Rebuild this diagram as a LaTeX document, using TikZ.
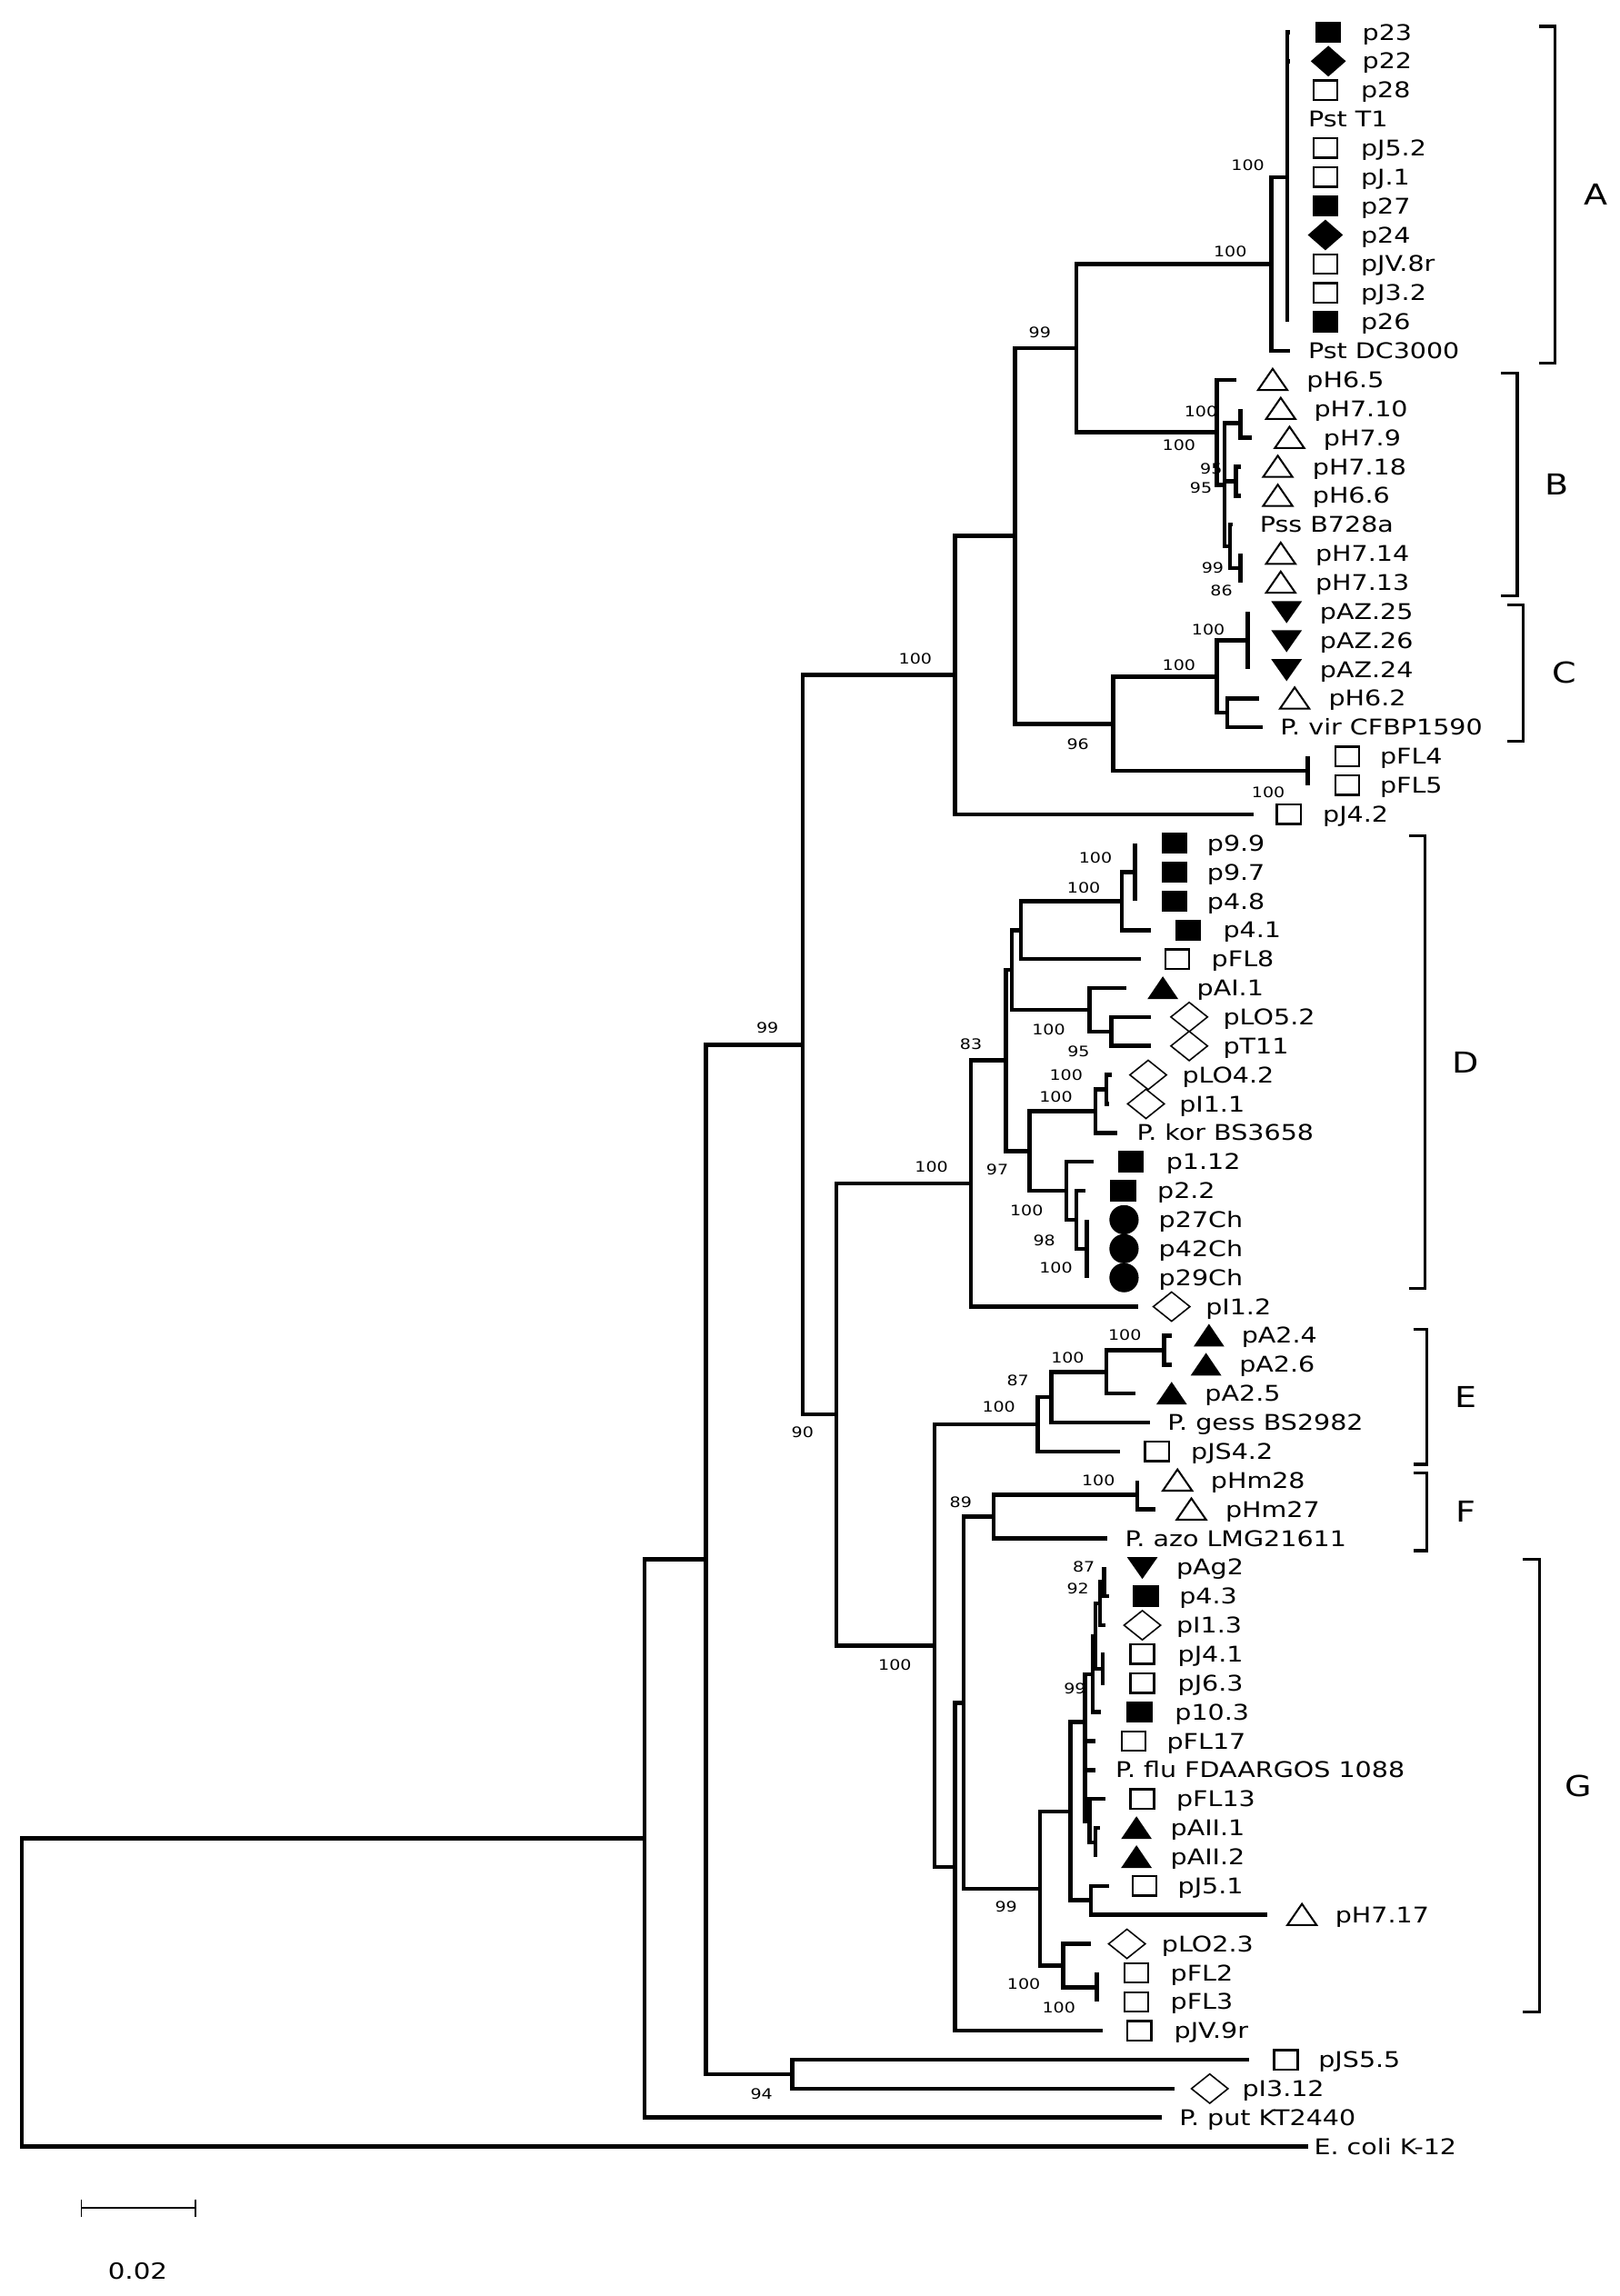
\documentclass[tikz,border=0pt]{standalone}
\usepackage{fontspec}
\setmainfont[FakeStretch=1.2]{DejaVu Sans}
\usetikzlibrary{
  arrows.meta
}

\tikzset{
  sqf/.pic={\fill (-8.8,-7.3) rectangle (8.8,7.3);},
  sqo/.pic={\draw[line width=1pt] (-8.1,-6.6) rectangle (8.1,6.6);},
  dmf/.pic={\fill (0,-10.5) -- (12,0) -- (0,10.5) -- (-12,0) -- cycle;},
  dmo/.pic={\draw[line width=.7pt] (0,-10) -- (12.5,0) -- (0,10) -- (-12.5,0) -- cycle;},
  tro/.pic={\draw[line width=.9pt] (-10,7) -- (10,7) -- (0,-7.5) -- cycle;},
  trf/.pic={\fill (-10.5,7.5) -- (10.5,7.5) -- (0,-8) -- cycle;},
  tdf/.pic={\fill (-10.5,-7) -- (10.5,-7) -- (0,8) -- cycle;},
  crf/.pic={\fill (0,0) circle (10);},
  nosym/.pic={},
}

\begin{document}
\begin{tikzpicture}[x=0.25mm, y=-0.25mm,
  branch/.style={line width=2pt},
  leaf/.style={anchor=mid west, inner sep=0pt, font=\fontsize{10.5}{12}\selectfont},
  boot/.style={inner sep=0pt, font=\fontsize{7}{8}\selectfont},
  clade/.style={line width=1.4pt},
  cladename/.style={inner sep=0pt, font=\fontsize{14}{16}\selectfont},
]
\useasboundingbox (0,0) rectangle (1106,1568);

% leaves: row/tip/symbol/symbol x/label x/name
\foreach \r/\tx/\sym/\sx/\lx/\txt in {
  1/881/sqf/907/930/p23, 2/881/dmf/907/930/p22, 3/879/sqo/905/929/p28,
  4/879/nosym/0/893/Pst T1, 5/879/sqo/905/929/pJ5.2, 6/879/sqo/905/929/pJ.1,
  7/879/sqf/905/929/p27, 8/879/dmf/905/929/p24, 9/879/sqo/905/929/pJV.8r,
  10/879/sqo/905/929/pJ3.2, 11/879/sqf/905/929/p26, 12/881/nosym/0/893/Pst DC3000,
  13/844/tro/869/892/pH6.5, 14/847/tro/874.5/897/pH7.10, 15/855/tro/880.5/903.5/pH7.9,
  16/847/tro/872.5/896/pH7.18, 17/847/tro/872.5/896/pH6.6, 18/842/nosym/0/860/Pss B728a,
  19/847/tro/874.5/898/pH7.14, 20/847/tro/874.5/898/pH7.13,
  21/852/tdf/878.5/901/pAZ.25, 22/852/tdf/878.5/901/pAZ.26, 23/852/tdf/878.5/901/pAZ.24,
  24/860/tro/884/907/pH6.2, 25/862/nosym/0/874/P. vir CFBP1590,
  26/893/sqo/920/942/pFL4, 27/893/sqo/920/942/pFL5, 28/856/sqo/880/903/pJ4.2,
  29/775/sqf/802/824/p9.9, 30/775/sqf/802/824/p9.7, 31/775/sqf/802/824/p4.8,
  32/786/sqf/811.5/835/p4.1, 33/779/sqo/804/827/pFL8, 34/769/trf/794/817/pAI.1,
  35/786/dmo/812/835/pLO5.2, 36/786/dmo/812/835/pT11, 37/759/dmo/784/807/pLO4.2,
  38/757/dmo/782.5/805/pI1.1, 39/763/nosym/0/776/P. kor BS3658,
  40/747/sqf/772/796/p1.12, 41/741/sqf/767/790/p2.2, 42/742/crf/767.5/791/p27Ch,
  43/742/crf/767.5/791/p42Ch, 44/742/crf/767.5/791/p29Ch, 45/777/dmo/800/823/pI1.2,
  46/800/trf/825.5/847.5/pA2.4, 47/800/trf/823.5/846/pA2.6, 48/775.5/trf/800/822.5/pA2.5,
  49/785/nosym/0/797/P. gess BS2982, 50/765/sqo/790/813/pJS4.2,
  51/776.5/tro/804/826.5/pHm28, 52/789/tro/813.5/836.5/pHm27, 53/756/nosym/0/768/P. azo LMG21611,
  54/754/tdf/780/803/pAg2, 55/757/sqf/782.5/805/p4.3, 56/755/dmo/780/803/pI1.3,
  57/754/sqo/780/804/pJ4.1, 58/754/sqo/780/804/pJ6.3, 59/752/sqf/778/802/p10.3,
  60/748/sqo/774/796.5/pFL17, 61/748/nosym/0/761.5/P. flu FDAARGOS 1088,
  62/755/sqo/780/803/pFL13, 63/751/trf/776/799/pAII.1, 64/748/trf/776/799/pAII.2,
  65/757/sqo/781.5/804/pJ5.1, 66/865/tro/889/911.5/pH7.17, 67/745/dmo/769.5/793/pLO2.3,
  68/749/sqo/776/799/pFL2, 69/749/sqo/776/799/pFL3, 70/753/sqo/778/801.5/pJV.9r,
  71/853/sqo/878/900/pJS5.5, 72/802/dmo/826/848/pI3.12,
  73/793/nosym/0/805/P. put KT2440, 74/893/nosym/0/897/E. coli K-12}{
  \pgfmathsetmacro\yy{22+(\r-1)*19.78}
  \coordinate (t\r) at (\tx,\yy);
  \pic at (\sx,\yy) {\sym};
  \node[leaf] (l\r) at (\lx,\yy+1.5) {\txt};
}

% inner nodes
\foreach \n/\x/\y in {
  R0/15/1360.8, N1/440/1255.6, N2/482/1065, N94/541/1416.5, N3/548/713.5,
  N5/652/461, N99/693/366, NAB/735/237.7, NA/868/180.3, Acr/879/120.9,
  NB/831/295.2, Bb/836/331, Bc/847/289, Bd/844/328.6, Be/840/373.1, Bf/847/387.9,
  N96/760/494.3, NC/831/462.1, NAZ/852/437.4, Nvir/838/486.8, NFL/893/526.4,
  N4/571/966, D0/663/808.3, D1/687/724.2, D1a/691/662.4, D2/697/635.2,
  D3/766/615.4, D4/775/595.6, D5/744/689.6, D6/759/704.4, D7/703/786,
  D8/748/758.8, D9/755.5/744, D10/728/813.2, D11/735/833, D12/742/852.8,
  N6/638/1123.8, E0/708.5/972.7, E1/718/954.2, E2/755.5/936.9, E3/795/922,
  X/652/1274.9, Y/658/1162.9, F0/678.6/1035.8, F1/776.5/1020.9,
  G1/710/1290, G2/731/1237, G3/741/1176, Ga/754/1080.2, Gb/751/1095,
  Gc/753/1139.6, Gd/748/1117.3, Ge/746/1143.3, Gg/748/1258.3, Gh/744/1243.5,
  G8/745/1297.8, G9/726/1342.3, G10/749/1357.2}
  \coordinate (\n) at (\x,\y);

% bootstrap values
\foreach \x/\y/\v [count=\i] in {
  852/113/100, 840/172/100, 710/227/99, 820/281/100, 805/304/100, 827/320/95,
  820/333/95, 828/388/99, 834/403/86, 625/450/100, 825/430/100, 805/454/100,
  736/508/96, 866/541/100, 524/702/99, 748/586/100, 740/606/100, 663/713/83,
  716/703/100, 736.5/718/95, 728/734/100, 721/749/100, 636/797/100, 681/799/97,
  701/826.5/100, 713/847/98, 721/866/100, 548/978/90, 768/912/100, 729/927/100,
  695/943/87, 682/961/100, 750/1011/100, 656/1026/89, 611/1137/100, 740/1070/87,
  736/1085/92, 734/1153/99, 687/1302/99, 699/1355/100, 723/1371/100, 520/1430/94}
  \node[boot] (b\i) at (\x,\y) {\v};

\foreach \a/\b in {
  R0/N1, R0/t74, N1/N2, N1/t73, N2/N3, N2/N94, N94/t71, N94/t72,
  N3/N5, N3/N4, N5/N99, N5/t28, N99/NAB, N99/N96, NAB/NA, NAB/NB,
  NA/Acr, NA/t12, Acr/t1, Acr/t2, Acr/t3, Acr/t4, Acr/t5, Acr/t6, Acr/t7,
  Acr/t8, Acr/t9, Acr/t10, Acr/t11,
  NB/t13, NB/Bb, Bb/Bc, Bb/Bd, Bb/Be, Bc/t14, Bc/t15, Bd/t16, Bd/t17,
  Be/t18, Be/Bf, Bf/t19, Bf/t20,
  N96/NC, N96/NFL, NC/NAZ, NC/Nvir, NAZ/t21, NAZ/t22, NAZ/t23,
  Nvir/t24, Nvir/t25, NFL/t26, NFL/t27,
  N4/D0, N4/N6, D0/D1, D0/t45, D1/D1a, D1/D7, D1a/D2, D1a/D5,
  D2/D3, D2/t33, D3/D4, D3/t32, D4/t29, D4/t30, D4/t31, D5/t34, D5/D6,
  D6/t35, D6/t36, D7/D8, D7/D10, D8/D9, D8/t39, D9/t37, D9/t38,
  D10/t40, D10/D11, D11/t41, D11/D12, D12/t42, D12/t43, D12/t44,
  N6/E0, N6/X, E0/E1, E0/t50, E1/E2, E1/t49, E2/E3, E2/t48, E3/t46, E3/t47,
  X/Y, X/t70, Y/F0, Y/G1, F0/F1, F0/t53, F1/t51, F1/t52,
  G1/G2, G1/G9, G2/G3, G2/G8, G3/Ge, G3/t60, G3/t61, G3/Gh,
  Ge/Gd, Ge/t59, Gd/Gb, Gd/Gc, Gb/Ga, Gb/t56, Ga/t54, Ga/t55, Gc/t57, Gc/t58,
  Gh/t62, Gh/Gg, Gg/t63, Gg/t64, G8/t65, G8/t66, G9/t67, G9/G10, G10/t68, G10/t69}
  \draw[branch] (\a) |- (\b);

% groups
\foreach \g/\top/\bot/\xv/\xt/\xl in {
  A/18/248/1062/1051/1090, B/255/407/1036/1025/1063, C/413/506/1040/1029/1068,
  D/571/880/973/962/1001, E/908/1000/974/965/1001, F/1006/1059/974/965/1001,
  G/1065/1374/1051/1040/1078}{
  \draw[clade] (\xt,\top) -- (\xv,\top) -- (\xv,\bot) -- (\xt,\bot);
  \node[cladename] (g\g) at (\xl,{(\top+\bot)/2}) {\g};
}

\coordinate (sb1) at (55,1508);
\coordinate (sb2) at (134,1508);
\draw[line width=.8pt, {Bar[width=3mm]}-{Bar[width=3mm]}] (sb1) -- (sb2);
\node[leaf, anchor=center, font=\fontsize{10.8}{12}\selectfont] (scale) at (94,1551) {0.02};
\end{tikzpicture}
\end{document}
